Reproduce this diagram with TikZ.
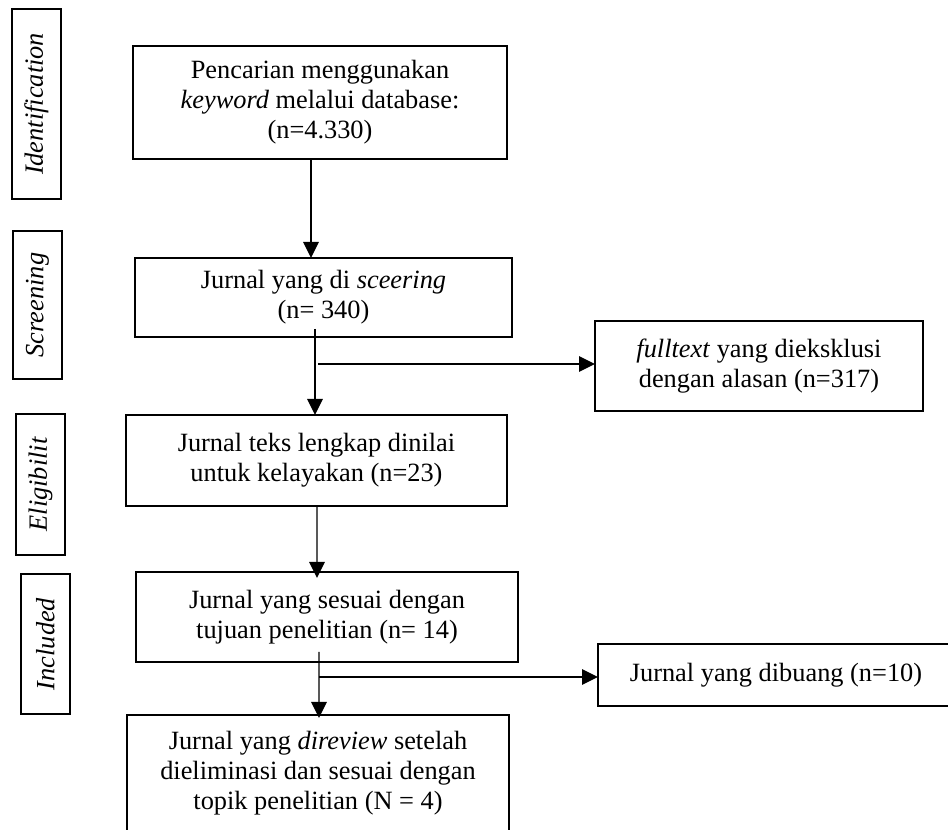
\documentclass[tikz,border=0pt]{standalone}
\usepackage{fontspec}
\setmainfont{Liberation Serif}
\usetikzlibrary{arrows.meta}

\begin{document}
\begin{tikzpicture}[line width=0.6pt, >={Triangle[length=0.32cm,width=0.31cm]}, every node/.style={font=\fontsize{15pt}{17pt}\selectfont}]
		\tikzstyle{proc}=[draw,shape=rectangle,align=center,inner sep=0pt,outer sep=0pt]
		\tikzstyle{phase}=[draw,shape=rectangle,rotate=90,inner sep=0pt,outer sep=0pt,minimum height=0.98cm,font=\fontsize{15pt}{17pt}\selectfont\itshape]
		\tikzstyle{flow}=[->,line width=0.8pt]

		\useasboundingbox (0,0) rectangle (18.96,16.6);

		\node[phase,minimum width=3.80cm](l1) at (0.73,14.52){Identification};
		\node[phase,minimum width=2.96cm](l2) at (0.75,10.50){Screening};
		\node[phase,minimum width=2.82cm](l3) at (0.81,6.91){Eligibilit};
		\node[phase,minimum width=2.80cm](l4) at (0.91,3.72){Included};

		\node[proc,minimum width=7.48cm,minimum height=2.26cm](p1) at (6.40,14.55){Pencarian menggunakan\\\textit{keyword} melalui database:\\(n=4.330)};
		\node[proc,minimum width=7.54cm,minimum height=1.58cm](p2) at (6.47,10.65){Jurnal yang di \textit{sceering}\\(n= 340)};
		\node[proc,minimum width=7.62cm,minimum height=1.82cm](p3) at (6.33,7.39){Jurnal teks lengkap dinilai\\untuk kelayakan (n=23)};
		\node[proc,minimum width=7.64cm,minimum height=1.80cm](p4) at (6.54,4.26){Jurnal yang sesuai dengan\\tujuan penelitian (n= 14)};
		\node[proc,minimum width=7.64cm,minimum height=2.34cm](p5) at (6.36,1.13){Jurnal yang \textit{direview} setelah\\dieliminasi dan sesuai dengan\\topik penelitian (N = 4)};
%
		\node[proc,minimum width=6.56cm,minimum height=1.80cm](e1) at (15.18,9.28){\textit{fulltext} yang dieksklusi\\dengan alasan (n=317)};
		\node[proc,minimum width=7.12cm,minimum height=1.24cm](e2) at (15.52,3.10){Jurnal yang dibuang (n=10)};

		\coordinate (c1) at (6.36,9.32);
		\coordinate (c2) at (6.38,3.06);

		\draw[flow] ([xshift=-0.18cm]p1.south) -- ([xshift=-0.25cm]p2.north);
		\draw[flow] ([xshift=-0.17cm,yshift=0.16cm]p2.south) -- ([xshift=-0.03cm]p3.north);
		\draw[flow] ([xshift=0.01cm]p3.south) -- ([xshift=-0.20cm,yshift=-0.12cm]p4.north);
		\draw[flow] ([xshift=-0.16cm,yshift=0.20cm]p4.south) -- ([xshift=0.02cm,yshift=-0.06cm]p5.north);

		\draw[flow] (c1) -- (c1 -| e1.west);
		\draw[flow] (c2) -- (c2 -| e2.west);
	\end{tikzpicture}
\end{document}
